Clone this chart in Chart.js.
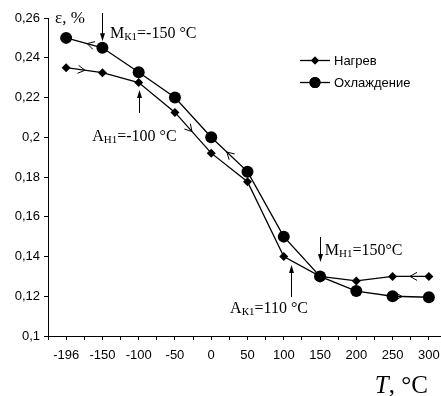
<!DOCTYPE html>
<html><head><meta charset="utf-8">
<script src="https://cdn.jsdelivr.net/npm/chart.js@4/dist/chart.umd.min.js"></script>
<style>
html,body{margin:0;padding:0;background:#fff;overflow:hidden;width:441px;height:396px}
#wrap{width:441px;height:396px;overflow:hidden;position:relative}
canvas{display:block}
</style></head>
<body><div id="wrap"><canvas id="c" width="460" height="396"></canvas></div>
<script>
const categories = ['-196','-150','-100','-50','0','50','100','150','200','250','300'];
const heating = [0.235, 0.2325, 0.2275, 0.2125, 0.192, 0.1776, 0.140, 0.130, 0.1277, 0.130, 0.130];
const cooling = [0.250, 0.245, 0.2327, 0.220, 0.200, 0.1827, 0.150, 0.130, 0.1226, 0.120, 0.1195];
const yTicks = [0.1, 0.12, 0.14, 0.16, 0.18, 0.2, 0.22, 0.24, 0.26];
const seriesNames = ['Нагрев', 'Охлаждение'];

// annotations in data units (x = category index, y = value)
const vArrows = [
  {x: 1, y0: 0.2625, y1: 0.2483},
  {x: 2, y0: 0.2122, y1: 0.2238},
  {x: 7, y0: 0.1498, y1: 0.1372},
  {x: 6.2, y0: 0.1196, y1: 0.1357}
];
const aLabels = [
  {main: 'M', sub: 'К1', rest: '=-150 °C', x: 1.21, y: 0.2525},
  {main: 'A', sub: 'Н1', rest: '=-100 °C', x: 0.72, y: 0.2011},
  {main: 'M', sub: 'Н1', rest: '=150°C', x: 7.13, y: 0.1433},
  {main: 'A', sub: 'К1', rest: '=110 °C', x: 4.52, y: 0.1141}
];
const chevrons = [
  {s: 1, seg: 0, t: 0.58, back: true},
  {s: 0, seg: 0, t: 0.52, back: false},
  {s: 0, seg: 3, t: 0.47, back: false},
  {s: 1, seg: 4, t: 0.43, back: true},
  {s: 0, seg: 9, t: 0.48, back: true},
  {s: 1, seg: 9, t: 0.26, back: false}
];

const SERIF = '"Liberation Serif","Times New Roman",serif';
const SANS = '"Liberation Sans",Arial,sans-serif';

const toPts = arr => arr.map((v, i) => ({x: i, y: v}));
const allSeries = [heating, cooling];

const fmt = v => {
  let s = (Math.round(v * 100) / 100).toString();
  return s.replace('.', ',');
};

const annot = {
  id: 'annot',
  afterDatasetsDraw(chart) {
    const ctx = chart.ctx, xs = chart.scales.x, ys = chart.scales.y;
    ctx.save();
    ctx.strokeStyle = '#000'; ctx.fillStyle = '#000'; ctx.lineWidth = 1;
    // vertical arrows
    vArrows.forEach(a => {
      const px = Math.round(xs.getPixelForValue(a.x)) + 0.5;
      const p0 = ys.getPixelForValue(a.y0), p1 = ys.getPixelForValue(a.y1);
      const dir = p1 > p0 ? 1 : -1;
      ctx.beginPath(); ctx.moveTo(px, p0); ctx.lineTo(px, p1 - dir * 6); ctx.stroke();
      ctx.beginPath(); ctx.moveTo(px, p1); ctx.lineTo(px - 2.5, p1 - dir * 8); ctx.lineTo(px + 2.5, p1 - dir * 8); ctx.closePath(); ctx.fill();
    });
    // chevrons on lines
    chevrons.forEach(c => {
      const arr = allSeries[c.s];
      const x0 = xs.getPixelForValue(c.seg), y0 = ys.getPixelForValue(arr[c.seg]);
      const x1 = xs.getPixelForValue(c.seg + 1), y1 = ys.getPixelForValue(arr[c.seg + 1]);
      const px = x0 + (x1 - x0) * c.t, py = y0 + (y1 - y0) * c.t;
      let dx = x1 - x0, dy = y1 - y0; const L = Math.hypot(dx, dy); dx /= L; dy /= L;
      if (c.back) { dx = -dx; dy = -dy; }
      const nx = -dy, ny = dx;
      ctx.beginPath();
      ctx.moveTo(px - dx * 7 + nx * 4, py - dy * 7 + ny * 4);
      ctx.lineTo(px, py);
      ctx.lineTo(px - dx * 7 - nx * 4, py - dy * 7 - ny * 4);
      ctx.stroke();
    });
    // labels
    ctx.textBaseline = 'alphabetic'; ctx.textAlign = 'left';
    aLabels.forEach(l => {
      let px = xs.getPixelForValue(l.x), py = ys.getPixelForValue(l.y) + 5.5;
      ctx.font = '16px ' + SERIF; ctx.fillText(l.main, px, py); px += ctx.measureText(l.main).width;
      ctx.font = '11px ' + SERIF; ctx.fillText(l.sub, px, py + 2); px += ctx.measureText(l.sub).width;
      ctx.font = '16px ' + SERIF; ctx.fillText(l.rest, px, py);
    });
    // axis titles
    ctx.font = '17px ' + SERIF;
    ctx.textBaseline = 'middle';
    ctx.fillText('ε, %', chart.chartArea.left + 7, ys.getPixelForValue(0.26) + 1);
    ctx.textBaseline = 'alphabetic';
    const tx = xs.getPixelForValue(10) - 1, ty = 393;
    ctx.font = '25px ' + SERIF;
    const restW = ctx.measureText(', °C').width;
    ctx.fillText(', °C', tx - restW, ty);
    ctx.font = 'italic 25px ' + SERIF;
    const tW = ctx.measureText('T').width;
    ctx.fillText('T', tx - restW - tW, ty);
    // legend
    const ds = chart.data.datasets;
    [60, 82].forEach((ly, i) => {
      ctx.beginPath(); ctx.moveTo(300, ly + 0.5); ctx.lineTo(330, ly + 0.5); ctx.lineWidth = 1.3; ctx.stroke();
      Chart.helpers.drawPoint(ctx, {pointStyle: ds[i].pointStyle, radius: ds[i].pointRadius - 0.5, borderWidth: 0}, 315, ly + 0.5);
      ctx.fill();
      ctx.font = '13px ' + SANS; ctx.textBaseline = 'middle';
      ctx.fillText(seriesNames[i], 334, ly + 1);
    });
    ctx.restore();
  }
};

new Chart(document.getElementById('c'), {
  type: 'line',
  data: {
    datasets: [
      {label: seriesNames[0], data: toPts(heating), borderColor: '#000', backgroundColor: '#000', borderWidth: 1.3,
       pointStyle: 'rectRot', pointRadius: 4.5, pointBorderWidth: 0, tension: 0},
      {label: seriesNames[1], data: toPts(cooling), borderColor: '#000', backgroundColor: '#000', borderWidth: 1.3,
       pointStyle: 'circle', pointRadius: 6, pointBorderWidth: 0, tension: 0}
    ]
  },
  options: {
    responsive: false, animation: false, devicePixelRatio: 1,
    layout: {padding: {top: 18, right: 13, left: 0, bottom: 0}},
    plugins: {legend: {display: false}, tooltip: {enabled: false}},
    scales: {
      x: {
        type: 'linear', min: -0.5, max: 10.5,
        afterBuildTicks: s => { const t = []; for (let i = -1; i <= 21; i++) t.push({value: i / 2}); s.ticks = t; },
        afterFit: s => { s.height = 60; },
        grid: {drawOnChartArea: false, drawTicks: true, tickLength: 4, color: '#000'},
        border: {display: true, color: '#000', width: 1},
        ticks: {autoSkip: false, maxRotation: 0, padding: 8, color: '#000', font: {family: SANS, size: 13},
          callback: v => Number.isInteger(v) && categories[v] !== undefined ? categories[v] : ''}
      },
      y: {
        min: 0.1, max: 0.26,
        afterBuildTicks: s => { s.ticks = yTicks.map(v => ({value: v})); },
        afterFit: s => { s.width = 48; },
        grid: {drawOnChartArea: false, drawTicks: true, tickLength: 4, color: '#000'},
        border: {display: true, color: '#000', width: 1},
        ticks: {padding: 4, color: '#000', font: {family: SANS, size: 13}, callback: v => fmt(v)}
      }
    }
  },
  plugins: [annot]
});
</script>
</body></html>
